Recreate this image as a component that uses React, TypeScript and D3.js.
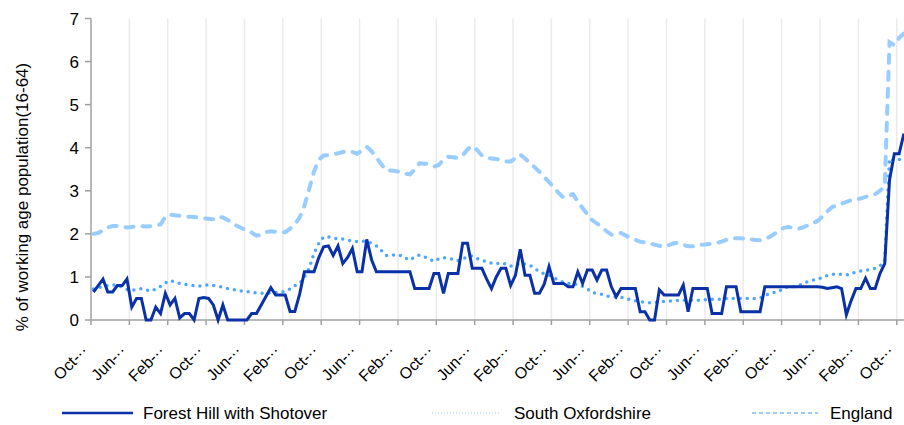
import React from "react";
import * as d3 from "d3";

const tickLabels = [
  "Oct-··", "Jun-··", "Feb-··", "Oct-··", "Jun-··", "Feb-··", "Oct-··", "Jun-··",
  "Feb-··", "Oct-··", "Jun-··", "Feb-··", "Oct-··", "Jun-··", "Feb-··", "Oct-··",
  "Jun-··", "Feb-··", "Oct-··", "Jun-··", "Feb-··", "Oct-··",
];
const yTicks = [0, 1, 2, 3, 4, 5, 6, 7];
const seriesNames = ["Forest Hill with Shotover", "South Oxfordshire", "England"];

const forest = [
  0.65, 0.8, 0.95, 0.65, 0.65, 0.8, 0.8, 0.95, 0.3, 0.5,
  0.5, 0, 0, 0.3, 0.15, 0.62, 0.35, 0.5, 0.05, 0.15,
  0.15, 0, 0.5, 0.52, 0.5, 0.35, 0, 0.35, 0, 0,
  0, 0, 0, 0.15, 0.15, 0.35, 0.55, 0.75, 0.58, 0.58,
  0.58, 0.2, 0.2, 0.6, 1.12, 1.12, 1.12, 1.45, 1.7, 1.72,
  1.5, 1.72, 1.31, 1.45, 1.66, 1.12, 1.12, 1.87, 1.4, 1.12,
  1.12, 1.12, 1.12, 1.12, 1.12, 1.12, 1.12, 0.73, 0.73, 0.73,
  0.73, 1.08, 1.08, 0.62, 1.08, 1.08, 1.08, 1.78, 1.78, 1.2,
  1.2, 1.2, 0.95, 0.73, 1.0, 1.2, 1.2, 0.8, 1.04, 1.64,
  1.04, 1.04, 0.62, 0.62, 0.83, 1.24, 0.85, 0.85, 0.85, 0.77,
  0.77, 1.12, 0.85, 1.16, 1.16, 0.93, 1.16, 1.16, 0.77, 0.54,
  0.73, 0.73, 0.73, 0.73, 0.19, 0.19, 0, 0, 0.7, 0.58,
  0.58, 0.58, 0.58, 0.81, 0.19, 0.73, 0.73, 0.73, 0.73, 0.15,
  0.15, 0.15, 0.77, 0.77, 0.77, 0.19, 0.19, 0.19, 0.19, 0.19,
  0.77, 0.77, 0.77, 0.77, 0.77, 0.77, 0.77, 0.77, 0.77, 0.77,
  0.77, 0.77, 0.76, 0.73, 0.75, 0.77, 0.73, 0.12, 0.45, 0.73,
  0.73, 0.97, 0.73, 0.73, 1.08, 1.31, 3.25, 3.86, 3.86, 4.33,
];

const southOxon = [
  0.72, 0.75, 0.77, 0.8, 0.81, 0.81, 0.76, 0.71, 0.69, 0.71,
  0.73, 0.7, 0.67, 0.72, 0.78, 0.86, 0.92, 0.88, 0.85, 0.83,
  0.81, 0.8, 0.79, 0.8, 0.82, 0.8, 0.78, 0.76, 0.73, 0.71,
  0.69, 0.67, 0.66, 0.64, 0.63, 0.62, 0.62, 0.63, 0.64, 0.65,
  0.66, 0.72, 0.8, 0.85, 1.0, 1.2, 1.55, 1.78, 1.93, 1.93,
  1.9, 1.89, 1.88, 1.86, 1.83, 1.82, 1.83, 1.82, 1.78, 1.72,
  1.62, 1.5, 1.49, 1.52, 1.5, 1.44, 1.39, 1.47, 1.51, 1.47,
  1.42, 1.36, 1.42, 1.45, 1.43, 1.41, 1.38, 1.42, 1.47, 1.49,
  1.43, 1.39, 1.35, 1.32, 1.3, 1.33, 1.3, 1.25, 1.27, 1.32,
  1.3, 1.27, 1.2, 1.12, 1.07, 1.04, 0.98, 0.93, 0.87, 0.85,
  0.85, 0.82, 0.78, 0.72, 0.64, 0.61, 0.6, 0.56, 0.54, 0.53,
  0.53, 0.5, 0.47, 0.45, 0.43, 0.41, 0.4, 0.41, 0.42, 0.43,
  0.44, 0.45, 0.45, 0.46, 0.46, 0.46, 0.46, 0.47, 0.47, 0.48,
  0.48, 0.48, 0.5, 0.5, 0.5, 0.5, 0.5, 0.5, 0.5, 0.51,
  0.57, 0.61, 0.64, 0.67, 0.75, 0.77, 0.77, 0.8, 0.84, 0.9,
  0.93, 0.94, 0.99, 1.03, 1.06, 1.07, 1.06, 1.04, 1.08, 1.11,
  1.14, 1.15, 1.17, 1.2, 1.25, 1.38, 3.75, 3.7, 3.72, 3.8,
];

const england = [
  2.0, 2.02, 2.08, 2.15, 2.18, 2.18, 2.16, 2.15, 2.16, 2.18,
  2.18, 2.17, 2.18, 2.2, 2.22, 2.4, 2.45, 2.43, 2.42, 2.4,
  2.4, 2.39, 2.38, 2.36, 2.35, 2.34, 2.4, 2.38, 2.32, 2.26,
  2.18, 2.13, 2.08, 2.03, 1.96, 1.98, 2.04, 2.06, 2.05, 2.04,
  2.04, 2.12, 2.22, 2.38, 2.65, 3.05, 3.45, 3.72, 3.82, 3.83,
  3.85, 3.87, 3.9, 3.92, 3.9, 3.86, 3.93, 4.02, 3.92, 3.78,
  3.62, 3.48, 3.47, 3.46, 3.44, 3.4, 3.38, 3.5, 3.64, 3.63,
  3.62, 3.56, 3.6, 3.72, 3.79, 3.78, 3.76, 3.82, 3.96, 4.04,
  3.95, 3.82, 3.76, 3.75, 3.74, 3.72, 3.68, 3.68, 3.76, 3.84,
  3.75, 3.65, 3.55, 3.44, 3.32, 3.2, 3.08, 2.95, 2.84, 2.88,
  2.92, 2.75, 2.6, 2.45, 2.32, 2.24, 2.16, 2.06, 1.98, 2.0,
  2.02, 1.96, 1.9, 1.86, 1.82, 1.8, 1.78, 1.75, 1.72, 1.7,
  1.74, 1.78, 1.79, 1.75, 1.71, 1.71, 1.73, 1.75, 1.76, 1.77,
  1.79, 1.82, 1.86, 1.89, 1.9, 1.9, 1.88, 1.87, 1.86, 1.85,
  1.88, 1.93, 2.0, 2.08, 2.14, 2.16, 2.13, 2.12, 2.15, 2.2,
  2.25, 2.3, 2.4, 2.52, 2.62, 2.66, 2.7, 2.74, 2.78, 2.8,
  2.82, 2.86, 2.89, 2.92, 3.0, 3.1, 6.45, 6.38, 6.55, 6.65,
];

const W = 904;
const H = 425;
const FONT = "'Liberation Sans', Arial, sans-serif";
const LABEL_EVERY = 8;

export default function App() {
  const n = forest.length;
  const idx = d3.range(n);
  const x = d3.scaleBand<number>().domain(idx).range([91, 91 + n * 4.796]).padding(0);
  const cx = (i: number) => (x(i) as number) + x.bandwidth() / 2;
  const y = d3.scaleLinear().domain([0, 7]).range([320, 18.5]);

  const line = d3
    .line<number>()
    .x((_, i) => cx(i))
    .y((d) => y(d));

  const tickIdx = d3.range(0, tickLabels.length).map((k) => k * LABEL_EVERY);

  const legend = [
    { name: seriesNames[0], x1: 62, x2: 133, tx: 143, color: "#0a31a8", width: 2.5, dash: "" },
    { name: seriesNames[1], x1: 432, x2: 500, tx: 514, color: "#9cc8f5", width: 1, dash: "1,2" },
    { name: seriesNames[2], x1: 752, x2: 818, tx: 830, color: "#99ccff", width: 2, dash: "4,3" },
  ];

  return (
    <svg
      width={W}
      height={H}
      style={{ position: "absolute", left: 0, top: 0, background: "#fff" }}
      fontFamily={FONT}
    >
      {tickIdx.slice(1).map((ti) => (
        <line
          key={"g" + ti}
          x1={x(ti) as number}
          x2={x(ti) as number}
          y1={y(7)}
          y2={y(0)}
          stroke="#ebebeb"
          strokeWidth={1.5}
        />
      ))}

      <line x1={91} x2={91} y1={y(7)} y2={y(0)} stroke="#a0a0a0" strokeWidth={1.5} />
      <line x1={91} x2={906} y1={y(0)} y2={y(0)} stroke="#a0a0a0" strokeWidth={1.5} />
      {yTicks.map((t) => (
        <g key={"y" + t}>
          <line x1={85} x2={91} y1={y(t)} y2={y(t)} stroke="#a0a0a0" strokeWidth={1.5} />
          <text x={79} y={y(t)} dy="0.36em" textAnchor="end" fontSize={17} fill="#000">
            {t}
          </text>
        </g>
      ))}
      {tickIdx.map((ti, k) => (
        <g key={"x" + ti}>
          <line
            x1={x(ti) as number}
            x2={x(ti) as number}
            y1={y(0)}
            y2={y(0) + 5}
            stroke="#a0a0a0"
            strokeWidth={1.5}
          />
          <text
            transform={`translate(${(x(ti) as number) - 2},${352}) rotate(-45)`}
            textAnchor="end"
            fontSize={16}
            fill="#000"
          >
            {tickLabels[k]}
          </text>
        </g>
      ))}

      <text
        transform={`translate(28,${197}) rotate(-90)`}
        textAnchor="middle"
        fontSize={17}
        fill="#000"
      >
        % of working age population(16-64)
      </text>

      <path
        d={line(england) || ""}
        fill="none"
        stroke="#99ccff"
        strokeWidth={4}
        strokeDasharray="8,9"
        strokeLinecap="round"
      />
      <path
        d={line(southOxon) || ""}
        fill="none"
        stroke="#4da6ff"
        strokeWidth={3.5}
        strokeDasharray="0,7"
        strokeLinecap="round"
      />
      <path
        d={line(forest) || ""}
        fill="none"
        stroke="#0a31a8"
        strokeWidth={3}
        strokeLinejoin="miter"
      />

      {legend.map((l) => (
        <g key={l.name}>
          <line
            x1={l.x1}
            x2={l.x2}
            y1={413}
            y2={413}
            stroke={l.color}
            strokeWidth={l.width}
            strokeDasharray={l.dash || undefined}
          />
          <text x={l.tx} y={413} dy="0.36em" fontSize={17} fill="#000">
            {l.name}
          </text>
        </g>
      ))}
    </svg>
  );
}
